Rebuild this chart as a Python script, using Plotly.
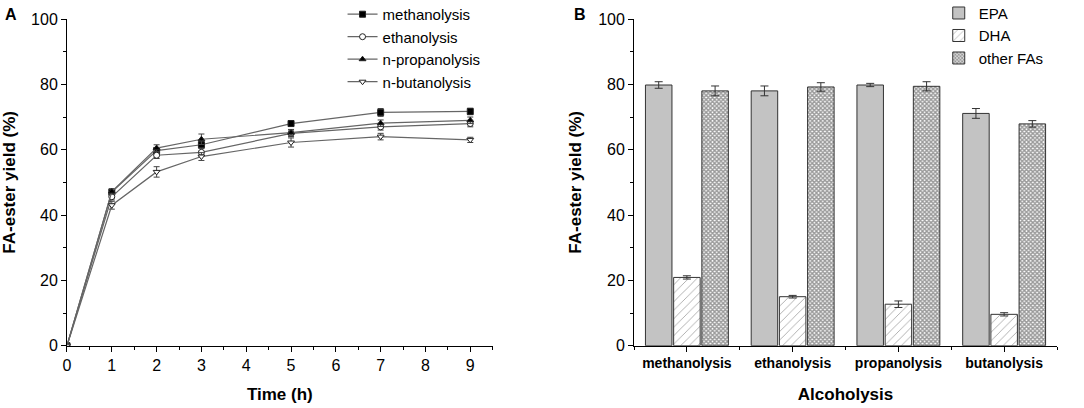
import plotly.graph_objects as go

# Panel A: yield over time
time_h = [0, 1, 2, 3, 5, 7, 9]
series_names = ["methanolysis", "ethanolysis", "n-propanolysis", "n-butanolysis"]
yield_meth = [0, 47.0, 59.7, 61.5, 68.0, 71.4, 71.7]
yield_eth = [0, 45.6, 58.3, 59.2, 65.0, 67.0, 68.0]
yield_prop = [0, 47.2, 60.5, 63.2, 65.2, 68.1, 69.0]
yield_but = [0, 43.0, 53.2, 57.9, 62.2, 64.0, 63.0]
err_meth = [0, 1.0, 1.0, 1.0, 0.8, 1.2, 1.0]
err_eth = [0, 1.0, 1.0, 1.2, 1.0, 1.0, 1.0]
err_prop = [0, 0.8, 1.0, 1.6, 1.0, 1.0, 1.0]
err_but = [0, 1.2, 1.6, 1.2, 1.4, 1.0, 0.8]

# Panel B: yield per fatty acid and alcohol
alcohols = ["methanolysis", "ethanolysis", "propanolysis", "butanolysis"]
epa = [79.8, 78.0, 79.8, 71.1]
dha = [20.9, 15.0, 12.7, 9.6]
other_fas = [78.0, 79.2, 79.4, 67.9]
epa_err = [1.0, 1.5, 0.5, 1.5]
dha_err = [0.5, 0.4, 1.0, 0.5]
other_err = [1.5, 1.3, 1.4, 1.0]

FONT = "Arial, Liberation Sans, sans-serif"
LINE = "#666666"

fig = go.Figure()

styles = [
    ("square", "black", yield_meth, err_meth),
    ("circle", "white", yield_eth, err_eth),
    ("triangle-up", "black", yield_prop, err_prop),
    ("triangle-down", "white", yield_but, err_but),
]
for name, (sym, fill, ys, es) in zip(series_names, styles):
    fig.add_trace(
        go.Scatter(
            x=time_h,
            y=ys,
            name=name,
            mode="lines+markers",
            line=dict(color=LINE, width=1.2),
            marker=dict(symbol=sym, size=6, color=fill, line=dict(color="#222", width=1)),
            error_y=dict(type="data", array=es, color="#444", thickness=1, width=3),
            xaxis="x",
            yaxis="y",
            legend="legend",
        )
    )

bar_x = list(range(len(alcohols)))
fig.add_trace(
    go.Bar(
        x=bar_x, y=epa, name="EPA",
        marker=dict(color="#c3c3c3", line=dict(color="#333", width=1)),
        error_y=dict(type="data", array=epa_err, color="#333", thickness=1, width=4),
        xaxis="x2", yaxis="y2", legend="legend2",
    )
)
fig.add_trace(
    go.Bar(
        x=bar_x, y=dha, name="DHA",
        marker=dict(color="white", line=dict(color="#333", width=1),
                    pattern=dict(shape="/", fgcolor="#555", bgcolor="white", size=6, solidity=0.15)),
        error_y=dict(type="data", array=dha_err, color="#333", thickness=1, width=4),
        xaxis="x2", yaxis="y2", legend="legend2",
    )
)
fig.add_trace(
    go.Bar(
        x=bar_x, y=other_fas, name="other FAs",
        marker=dict(color="white", line=dict(color="#333", width=1),
                    pattern=dict(shape="x", fgcolor="#333", bgcolor="white", size=3, solidity=0.7)),
        error_y=dict(type="data", array=other_err, color="#333", thickness=1, width=4),
        xaxis="x2", yaxis="y2", legend="legend2",
    )
)

axis_common = dict(
    showline=True, linecolor="black", linewidth=1, mirror=False, automargin=False,
    ticks="outside", ticklen=5, tickcolor="black", showgrid=False, zeroline=False,
    tickfont=dict(family=FONT, size=16, color="black"),
)
title_font = dict(family=FONT, size=17, color="black")

fig.update_layout(
    width=1084,
    height=408,
    margin=dict(l=0, r=0, t=0, b=0, autoexpand=False),
    plot_bgcolor="white",
    paper_bgcolor="white",
    font=dict(family=FONT, color="black"),
    barmode="group",
    bargap=0.2,
    bargroupgap=0.06,
    xaxis=dict(
        domain=[0.0618, 0.4545], range=[0, 9.5], dtick=1, anchor="y",
        title=dict(text="<b>Time (h)</b>", font=title_font, standoff=15),
        minor=dict(ticks="outside", ticklen=3, dtick=0.5, tickcolor="black"),
        **axis_common,
    ),
    yaxis=dict(
        domain=[0.1527, 0.9534], range=[0, 100], dtick=20, anchor="x",
        title=dict(text="<b>FA-ester yield (%)</b>", font=title_font, standoff=12),
        minor=dict(ticks="outside", ticklen=3, dtick=10, tickcolor="black"),
        **axis_common,
    ),
    xaxis2=dict(
        domain=[0.5849, 0.9751], range=[-0.5, 3.5], anchor="y2",
        tickvals=bar_x, ticktext=["<b>%s</b>" % a for a in alcohols],
        title=dict(text="<b>Alcoholysis</b>", font=title_font, standoff=17),
        minor=dict(ticks="outside", ticklen=3, tick0=0.5, dtick=1, tickcolor="black"),
        **{**axis_common, "tickfont": dict(family=FONT, size=14, color="black")},
    ),
    yaxis2=dict(
        domain=[0.1527, 0.9534], range=[0, 100], dtick=20, anchor="x2",
        title=dict(text="<b>FA-ester yield (%)</b>", font=title_font, standoff=12),
        minor=dict(ticks="outside", ticklen=3, dtick=10, tickcolor="black"),
        **axis_common,
    ),
    legend=dict(
        x=0.316, y=1.005, xanchor="left", yanchor="top",
        font=dict(family=FONT, size=15, color="black"),
        bgcolor="rgba(0,0,0,0)", tracegroupgap=0, itemwidth=30,
    ),
    legend2=dict(
        x=0.866, y=1.008, xanchor="left", yanchor="top",
        font=dict(family=FONT, size=15, color="black"),
        bgcolor="rgba(0,0,0,0)", tracegroupgap=0,
    ),
    annotations=[
        dict(text="<b>A</b>", x=0.003, y=0.99, xref="paper", yref="paper",
             xanchor="left", yanchor="top", showarrow=False,
             font=dict(family=FONT, size=16, color="black")),
        dict(text="<b>B</b>", x=0.528, y=0.99, xref="paper", yref="paper",
             xanchor="left", yanchor="top", showarrow=False,
             font=dict(family=FONT, size=16, color="black")),
    ],
)

# page has a default 8px body margin; drop it so the figure fills the window
fig.write_html(
    "out.html",
    config={"displayModeBar": False},
    post_script="document.body.style.margin='0';",
)
